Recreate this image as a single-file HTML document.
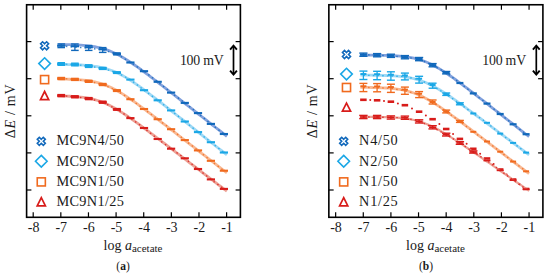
<!DOCTYPE html>
<html><head><meta charset="utf-8"><style>
html,body{margin:0;padding:0;background:#fff;width:550px;height:277px;overflow:hidden;}
svg{display:block;font-family:"Liberation Serif", serif;}
</style></head><body>
<svg width="550" height="277" viewBox="0 0 550 277" font-family='"Liberation Serif", serif' fill="#1a1a1a">
<rect width="550" height="277" fill="#fff"/>
<rect x="26.60" y="4.75" width="213.80" height="212.55" fill="none" stroke="#000" stroke-width="1.60"/>
<line x1="33.20" y1="217.30" x2="33.20" y2="212.30" stroke="#000" stroke-width="1.2"/>
<line x1="33.20" y1="4.75" x2="33.20" y2="9.75" stroke="#000" stroke-width="1.2"/>
<text x="33.60" y="231.7" font-size="14" text-anchor="middle">-8</text>
<line x1="60.83" y1="217.30" x2="60.83" y2="212.30" stroke="#000" stroke-width="1.2"/>
<line x1="60.83" y1="4.75" x2="60.83" y2="9.75" stroke="#000" stroke-width="1.2"/>
<text x="61.23" y="231.7" font-size="14" text-anchor="middle">-7</text>
<line x1="88.46" y1="217.30" x2="88.46" y2="212.30" stroke="#000" stroke-width="1.2"/>
<line x1="88.46" y1="4.75" x2="88.46" y2="9.75" stroke="#000" stroke-width="1.2"/>
<text x="88.86" y="231.7" font-size="14" text-anchor="middle">-6</text>
<line x1="116.09" y1="217.30" x2="116.09" y2="212.30" stroke="#000" stroke-width="1.2"/>
<line x1="116.09" y1="4.75" x2="116.09" y2="9.75" stroke="#000" stroke-width="1.2"/>
<text x="116.49" y="231.7" font-size="14" text-anchor="middle">-5</text>
<line x1="143.72" y1="217.30" x2="143.72" y2="212.30" stroke="#000" stroke-width="1.2"/>
<line x1="143.72" y1="4.75" x2="143.72" y2="9.75" stroke="#000" stroke-width="1.2"/>
<text x="144.12" y="231.7" font-size="14" text-anchor="middle">-4</text>
<line x1="171.35" y1="217.30" x2="171.35" y2="212.30" stroke="#000" stroke-width="1.2"/>
<line x1="171.35" y1="4.75" x2="171.35" y2="9.75" stroke="#000" stroke-width="1.2"/>
<text x="171.75" y="231.7" font-size="14" text-anchor="middle">-3</text>
<line x1="198.98" y1="217.30" x2="198.98" y2="212.30" stroke="#000" stroke-width="1.2"/>
<line x1="198.98" y1="4.75" x2="198.98" y2="9.75" stroke="#000" stroke-width="1.2"/>
<text x="199.38" y="231.7" font-size="14" text-anchor="middle">-2</text>
<line x1="226.61" y1="217.30" x2="226.61" y2="212.30" stroke="#000" stroke-width="1.2"/>
<line x1="226.61" y1="4.75" x2="226.61" y2="9.75" stroke="#000" stroke-width="1.2"/>
<text x="227.01" y="231.7" font-size="14" text-anchor="middle">-1</text>
<line x1="26.60" y1="41.60" x2="31.40" y2="41.60" stroke="#000" stroke-width="1.2"/>
<line x1="240.40" y1="41.60" x2="235.60" y2="41.60" stroke="#000" stroke-width="1.2"/>
<line x1="26.60" y1="78.70" x2="31.40" y2="78.70" stroke="#000" stroke-width="1.2"/>
<line x1="240.40" y1="78.70" x2="235.60" y2="78.70" stroke="#000" stroke-width="1.2"/>
<line x1="26.60" y1="115.80" x2="31.40" y2="115.80" stroke="#000" stroke-width="1.2"/>
<line x1="240.40" y1="115.80" x2="235.60" y2="115.80" stroke="#000" stroke-width="1.2"/>
<line x1="26.60" y1="152.90" x2="31.40" y2="152.90" stroke="#000" stroke-width="1.2"/>
<line x1="240.40" y1="152.90" x2="235.60" y2="152.90" stroke="#000" stroke-width="1.2"/>
<line x1="26.60" y1="190.00" x2="31.40" y2="190.00" stroke="#000" stroke-width="1.2"/>
<line x1="240.40" y1="190.00" x2="235.60" y2="190.00" stroke="#000" stroke-width="1.2"/>
<text transform="translate(15.30,111.3) rotate(-90)" font-size="14" text-anchor="middle" textLength="53.8" lengthAdjust="spacing">&#916;<tspan font-style="italic">E</tspan> / mV</text>
<text x="133.00" y="249.8" font-size="14" text-anchor="middle">log <tspan font-style="italic">a</tspan><tspan font-size="11" dy="2.2">acetate</tspan></text>
<text x="123.00" y="269.9" font-size="11.5" text-anchor="middle">(<tspan font-weight="bold">a</tspan>)</text>
<text x="179.90" y="64.7" font-size="13.8" textLength="43.8" lengthAdjust="spacing">100 mV</text>
<line x1="233.50" y1="46" x2="233.50" y2="74" stroke="#000" stroke-width="1.7"/>
<polyline points="230.10,49.6 233.50,45.6 236.90,49.6" fill="none" stroke="#000" stroke-width="1.9" stroke-linejoin="miter"/>
<polyline points="230.10,70.6 233.50,74.6 236.90,70.6" fill="none" stroke="#000" stroke-width="1.9" stroke-linejoin="miter"/>
<text x="56.40" y="145.10" font-size="14.3" textLength="67.6" lengthAdjust="spacing">MC9N4/50</text>
<path d="M41.30,139.30 L43.30,137.30 L45.30,139.30 L43.30,141.30 L45.30,143.30 L43.30,145.30 L41.30,143.30 L39.30,145.30 L37.30,143.30 L39.30,141.30 L37.30,139.30 L39.30,137.30 Z" fill="none" stroke="#1068bb" stroke-width="1.6" stroke-linejoin="miter"/>
<text x="56.40" y="165.60" font-size="14.3" textLength="67.6" lengthAdjust="spacing">MC9N2/50</text>
<path d="M41.30,155.40 L47.10,161.20 L41.30,167.00 L35.50,161.20 Z" fill="none" stroke="#1aa7e6" stroke-width="1.6"/>
<text x="56.40" y="185.70" font-size="14.3" textLength="67.6" lengthAdjust="spacing">MC9N1/50</text>
<rect x="37.25" y="177.85" width="8.10" height="8.10" fill="none" stroke="#f06a1e" stroke-width="1.6"/>
<text x="56.40" y="205.90" font-size="14.3" textLength="67.6" lengthAdjust="spacing">MC9N1/25</text>
<path d="M41.30,197.70 L45.40,205.80 L37.20,205.80 Z" fill="none" stroke="#d81c1a" stroke-width="1.7" stroke-linejoin="miter"/>
<path d="M44.60,43.80 L46.60,41.80 L48.60,43.80 L46.60,45.80 L48.60,47.80 L46.60,49.80 L44.60,47.80 L42.60,49.80 L40.60,47.80 L42.60,45.80 L40.60,43.80 L42.60,41.80 Z" fill="none" stroke="#1068bb" stroke-width="1.6" stroke-linejoin="miter"/>
<path d="M44.60,57.80 L50.40,63.60 L44.60,69.40 L38.80,63.60 Z" fill="none" stroke="#1aa7e6" stroke-width="1.6"/>
<rect x="40.55" y="75.55" width="8.10" height="8.10" fill="none" stroke="#f06a1e" stroke-width="1.6"/>
<path d="M44.60,91.50 L48.70,99.60 L40.50,99.60 Z" fill="none" stroke="#d81c1a" stroke-width="1.7" stroke-linejoin="miter"/>
<rect x="328.85" y="4.75" width="214.05" height="212.55" fill="none" stroke="#000" stroke-width="1.60"/>
<line x1="335.65" y1="217.30" x2="335.65" y2="212.30" stroke="#000" stroke-width="1.2"/>
<line x1="335.65" y1="4.75" x2="335.65" y2="9.75" stroke="#000" stroke-width="1.2"/>
<text x="336.05" y="231.7" font-size="14" text-anchor="middle">-8</text>
<line x1="363.28" y1="217.30" x2="363.28" y2="212.30" stroke="#000" stroke-width="1.2"/>
<line x1="363.28" y1="4.75" x2="363.28" y2="9.75" stroke="#000" stroke-width="1.2"/>
<text x="363.68" y="231.7" font-size="14" text-anchor="middle">-7</text>
<line x1="390.91" y1="217.30" x2="390.91" y2="212.30" stroke="#000" stroke-width="1.2"/>
<line x1="390.91" y1="4.75" x2="390.91" y2="9.75" stroke="#000" stroke-width="1.2"/>
<text x="391.31" y="231.7" font-size="14" text-anchor="middle">-6</text>
<line x1="418.54" y1="217.30" x2="418.54" y2="212.30" stroke="#000" stroke-width="1.2"/>
<line x1="418.54" y1="4.75" x2="418.54" y2="9.75" stroke="#000" stroke-width="1.2"/>
<text x="418.94" y="231.7" font-size="14" text-anchor="middle">-5</text>
<line x1="446.17" y1="217.30" x2="446.17" y2="212.30" stroke="#000" stroke-width="1.2"/>
<line x1="446.17" y1="4.75" x2="446.17" y2="9.75" stroke="#000" stroke-width="1.2"/>
<text x="446.57" y="231.7" font-size="14" text-anchor="middle">-4</text>
<line x1="473.80" y1="217.30" x2="473.80" y2="212.30" stroke="#000" stroke-width="1.2"/>
<line x1="473.80" y1="4.75" x2="473.80" y2="9.75" stroke="#000" stroke-width="1.2"/>
<text x="474.20" y="231.7" font-size="14" text-anchor="middle">-3</text>
<line x1="501.43" y1="217.30" x2="501.43" y2="212.30" stroke="#000" stroke-width="1.2"/>
<line x1="501.43" y1="4.75" x2="501.43" y2="9.75" stroke="#000" stroke-width="1.2"/>
<text x="501.83" y="231.7" font-size="14" text-anchor="middle">-2</text>
<line x1="529.06" y1="217.30" x2="529.06" y2="212.30" stroke="#000" stroke-width="1.2"/>
<line x1="529.06" y1="4.75" x2="529.06" y2="9.75" stroke="#000" stroke-width="1.2"/>
<text x="529.46" y="231.7" font-size="14" text-anchor="middle">-1</text>
<line x1="328.85" y1="41.60" x2="333.65" y2="41.60" stroke="#000" stroke-width="1.2"/>
<line x1="542.90" y1="41.60" x2="538.10" y2="41.60" stroke="#000" stroke-width="1.2"/>
<line x1="328.85" y1="78.70" x2="333.65" y2="78.70" stroke="#000" stroke-width="1.2"/>
<line x1="542.90" y1="78.70" x2="538.10" y2="78.70" stroke="#000" stroke-width="1.2"/>
<line x1="328.85" y1="115.80" x2="333.65" y2="115.80" stroke="#000" stroke-width="1.2"/>
<line x1="542.90" y1="115.80" x2="538.10" y2="115.80" stroke="#000" stroke-width="1.2"/>
<line x1="328.85" y1="152.90" x2="333.65" y2="152.90" stroke="#000" stroke-width="1.2"/>
<line x1="542.90" y1="152.90" x2="538.10" y2="152.90" stroke="#000" stroke-width="1.2"/>
<line x1="328.85" y1="190.00" x2="333.65" y2="190.00" stroke="#000" stroke-width="1.2"/>
<line x1="542.90" y1="190.00" x2="538.10" y2="190.00" stroke="#000" stroke-width="1.2"/>
<text transform="translate(316.70,111.3) rotate(-90)" font-size="14" text-anchor="middle" textLength="53.8" lengthAdjust="spacing">&#916;<tspan font-style="italic">E</tspan> / mV</text>
<text x="435.50" y="249.8" font-size="14" text-anchor="middle">log <tspan font-style="italic">a</tspan><tspan font-size="11" dy="2.2">acetate</tspan></text>
<text x="426.00" y="269.9" font-size="11.5" text-anchor="middle">(<tspan font-weight="bold">b</tspan>)</text>
<text x="482.30" y="64.7" font-size="13.8" textLength="43.8" lengthAdjust="spacing">100 mV</text>
<line x1="536.30" y1="46" x2="536.30" y2="74" stroke="#000" stroke-width="1.7"/>
<polyline points="532.90,49.6 536.30,45.6 539.70,49.6" fill="none" stroke="#000" stroke-width="1.9" stroke-linejoin="miter"/>
<polyline points="532.90,70.6 536.30,74.6 539.70,70.6" fill="none" stroke="#000" stroke-width="1.9" stroke-linejoin="miter"/>
<text x="359.10" y="145.10" font-size="14.3" textLength="38.6" lengthAdjust="spacing">N4/50</text>
<path d="M343.70,139.30 L345.70,137.30 L347.70,139.30 L345.70,141.30 L347.70,143.30 L345.70,145.30 L343.70,143.30 L341.70,145.30 L339.70,143.30 L341.70,141.30 L339.70,139.30 L341.70,137.30 Z" fill="none" stroke="#1068bb" stroke-width="1.6" stroke-linejoin="miter"/>
<text x="359.10" y="165.60" font-size="14.3" textLength="38.6" lengthAdjust="spacing">N2/50</text>
<path d="M343.70,155.40 L349.50,161.20 L343.70,167.00 L337.90,161.20 Z" fill="none" stroke="#1aa7e6" stroke-width="1.6"/>
<text x="359.10" y="185.70" font-size="14.3" textLength="38.6" lengthAdjust="spacing">N1/50</text>
<rect x="339.65" y="177.85" width="8.10" height="8.10" fill="none" stroke="#f06a1e" stroke-width="1.6"/>
<text x="359.10" y="205.90" font-size="14.3" textLength="38.6" lengthAdjust="spacing">N1/25</text>
<path d="M343.70,197.70 L347.80,205.80 L339.60,205.80 Z" fill="none" stroke="#d81c1a" stroke-width="1.7" stroke-linejoin="miter"/>
<path d="M346.50,52.50 L348.50,50.50 L350.50,52.50 L348.50,54.50 L350.50,56.50 L348.50,58.50 L346.50,56.50 L344.50,58.50 L342.50,56.50 L344.50,54.50 L342.50,52.50 L344.50,50.50 Z" fill="none" stroke="#1068bb" stroke-width="1.6" stroke-linejoin="miter"/>
<path d="M346.50,68.30 L352.30,74.10 L346.50,79.90 L340.70,74.10 Z" fill="none" stroke="#1aa7e6" stroke-width="1.6"/>
<rect x="342.45" y="83.45" width="8.10" height="8.10" fill="none" stroke="#f06a1e" stroke-width="1.6"/>
<path d="M346.50,103.10 L350.60,111.20 L342.40,111.20 Z" fill="none" stroke="#d81c1a" stroke-width="1.7" stroke-linejoin="miter"/>
<path d="M58.20,44.43 L61.01,44.46 L63.82,44.51 L66.64,44.56 L69.45,44.63 L72.26,44.71 L75.07,44.82 L77.88,44.95 L80.69,45.12 L83.50,45.32 L86.32,45.57 L89.13,45.88 L91.94,46.26 L94.75,46.71 L97.56,47.26 L100.38,47.91 L103.19,48.67 L106.00,49.55 L108.81,50.55 L111.62,51.69 L114.43,52.95 L117.25,54.34 L120.06,55.84 L122.87,57.45 L125.68,59.16 L128.49,60.95 L131.30,62.81 L134.12,64.73 L136.93,66.71 L139.74,68.73 L142.55,70.79 L145.36,72.88 L148.17,74.98 L150.99,77.11 L153.80,79.26 L156.61,81.41 L159.42,83.58 L162.23,85.75 L165.04,87.93 L167.85,90.12 L170.67,92.31 L173.48,94.50 L176.29,96.69 L179.10,98.89 L181.91,101.09 L184.72,103.29 L187.54,105.49 L190.35,107.69 L193.16,109.89 L195.97,112.09 L198.78,114.30 L201.59,116.50 L204.41,118.70 L207.22,120.91 L210.03,123.11 L212.84,125.31 L215.65,127.52 L218.46,129.72 L221.28,131.93 L224.09,134.13 L226.90,136.33" fill="none" stroke="#6389d4" stroke-width="2.80" opacity="0.80" stroke-linejoin="round"/>
<path d="M61.20,45.80 L74.90,47.20 L88.70,48.00 L102.70,50.00 L116.90,53.90 L130.40,62.50 L144.00,71.20 L157.70,81.80 L171.10,92.60 L184.80,102.90 L198.00,113.10 L210.90,123.90 L223.90,134.00" fill="none" stroke="#1068bb" stroke-width="1.4" stroke-dasharray="1.5,3.2" opacity="0.8"/>
<line x1="61.20" y1="44.00" x2="61.20" y2="47.60" stroke="#1068bb" stroke-width="1.3"/>
<line x1="57.40" y1="44.00" x2="65.00" y2="44.00" stroke="#1068bb" stroke-width="1.4"/>
<line x1="57.40" y1="47.60" x2="65.00" y2="47.60" stroke="#1068bb" stroke-width="1.4"/>
<rect x="57.10" y="44.75" width="8.20" height="2.10" fill="#1068bb"/>
<line x1="74.90" y1="44.00" x2="74.90" y2="50.40" stroke="#1068bb" stroke-width="1.3"/>
<line x1="71.10" y1="44.00" x2="78.70" y2="44.00" stroke="#1068bb" stroke-width="1.4"/>
<line x1="71.10" y1="50.40" x2="78.70" y2="50.40" stroke="#1068bb" stroke-width="1.4"/>
<rect x="70.80" y="45.19" width="8.20" height="2.10" fill="#1068bb"/>
<line x1="88.70" y1="45.60" x2="88.70" y2="50.40" stroke="#1068bb" stroke-width="1.3"/>
<line x1="84.90" y1="45.60" x2="92.50" y2="45.60" stroke="#1068bb" stroke-width="1.4"/>
<line x1="84.90" y1="50.40" x2="92.50" y2="50.40" stroke="#1068bb" stroke-width="1.4"/>
<rect x="84.60" y="46.23" width="8.20" height="2.10" fill="#1068bb"/>
<line x1="102.70" y1="47.60" x2="102.70" y2="52.40" stroke="#1068bb" stroke-width="1.3"/>
<line x1="98.90" y1="47.60" x2="106.50" y2="47.60" stroke="#1068bb" stroke-width="1.4"/>
<line x1="98.90" y1="52.40" x2="106.50" y2="52.40" stroke="#1068bb" stroke-width="1.4"/>
<rect x="98.60" y="48.23" width="8.20" height="2.10" fill="#1068bb"/>
<line x1="116.90" y1="52.90" x2="116.90" y2="54.90" stroke="#1068bb" stroke-width="1.3"/>
<line x1="113.10" y1="52.90" x2="120.70" y2="52.90" stroke="#1068bb" stroke-width="1.4"/>
<line x1="113.10" y1="54.90" x2="120.70" y2="54.90" stroke="#1068bb" stroke-width="1.4"/>
<rect x="112.80" y="52.85" width="8.20" height="2.10" fill="#1068bb"/>
<rect x="126.30" y="61.45" width="8.20" height="2.10" fill="#1068bb"/>
<rect x="139.90" y="70.15" width="8.20" height="2.10" fill="#1068bb"/>
<rect x="153.60" y="80.75" width="8.20" height="2.10" fill="#1068bb"/>
<rect x="167.00" y="91.55" width="8.20" height="2.10" fill="#1068bb"/>
<rect x="180.70" y="101.85" width="8.20" height="2.10" fill="#1068bb"/>
<rect x="193.90" y="112.05" width="8.20" height="2.10" fill="#1068bb"/>
<rect x="206.80" y="122.85" width="8.20" height="2.10" fill="#1068bb"/>
<rect x="219.80" y="132.95" width="8.20" height="2.10" fill="#1068bb"/>
<path d="M58.20,64.49 L61.01,64.52 L63.82,64.55 L66.64,64.59 L69.45,64.64 L72.26,64.71 L75.07,64.79 L77.88,64.89 L80.69,65.02 L83.50,65.18 L86.32,65.37 L89.13,65.62 L91.94,65.92 L94.75,66.28 L97.56,66.73 L100.38,67.26 L103.19,67.89 L106.00,68.64 L108.81,69.50 L111.62,70.49 L114.43,71.61 L117.25,72.86 L120.06,74.24 L122.87,75.74 L125.68,77.35 L128.49,79.06 L131.30,80.85 L134.12,82.73 L136.93,84.66 L139.74,86.66 L142.55,88.70 L145.36,90.77 L148.17,92.88 L150.99,95.01 L153.80,97.17 L156.61,99.34 L159.42,101.52 L162.23,103.71 L165.04,105.91 L167.85,108.12 L170.67,110.33 L173.48,112.55 L176.29,114.77 L179.10,117.00 L181.91,119.22 L184.72,121.45 L187.54,123.68 L190.35,125.91 L193.16,128.14 L195.97,130.37 L198.78,132.60 L201.59,134.83 L204.41,137.07 L207.22,139.30 L210.03,141.53 L212.84,143.76 L215.65,146.00 L218.46,148.23 L221.28,150.46 L224.09,152.70 L226.90,154.93" fill="none" stroke="#88d0f3" stroke-width="2.80" opacity="0.80" stroke-linejoin="round"/>
<path d="M61.20,64.00 L74.90,64.50 L88.70,66.10 L102.70,68.40 L116.90,72.60 L130.40,79.60 L144.00,90.20 L157.70,100.30 L171.10,110.40 L184.80,121.50 L198.00,132.10 L210.90,142.20 L223.90,152.50" fill="none" stroke="#1aa7e6" stroke-width="1.4" stroke-dasharray="1.5,3.2" opacity="0.8"/>
<line x1="61.20" y1="62.70" x2="61.20" y2="65.30" stroke="#1aa7e6" stroke-width="1.3"/>
<line x1="57.40" y1="62.70" x2="65.00" y2="62.70" stroke="#1aa7e6" stroke-width="1.4"/>
<line x1="57.40" y1="65.30" x2="65.00" y2="65.30" stroke="#1aa7e6" stroke-width="1.4"/>
<rect x="57.10" y="62.95" width="8.20" height="2.10" fill="#1aa7e6"/>
<line x1="74.90" y1="63.20" x2="74.90" y2="65.80" stroke="#1aa7e6" stroke-width="1.3"/>
<line x1="71.10" y1="63.20" x2="78.70" y2="63.20" stroke="#1aa7e6" stroke-width="1.4"/>
<line x1="71.10" y1="65.80" x2="78.70" y2="65.80" stroke="#1aa7e6" stroke-width="1.4"/>
<rect x="70.80" y="63.45" width="8.20" height="2.10" fill="#1aa7e6"/>
<line x1="88.70" y1="64.80" x2="88.70" y2="67.40" stroke="#1aa7e6" stroke-width="1.3"/>
<line x1="84.90" y1="64.80" x2="92.50" y2="64.80" stroke="#1aa7e6" stroke-width="1.4"/>
<line x1="84.90" y1="67.40" x2="92.50" y2="67.40" stroke="#1aa7e6" stroke-width="1.4"/>
<rect x="84.60" y="65.05" width="8.20" height="2.10" fill="#1aa7e6"/>
<line x1="102.70" y1="67.40" x2="102.70" y2="69.40" stroke="#1aa7e6" stroke-width="1.3"/>
<line x1="98.90" y1="67.40" x2="106.50" y2="67.40" stroke="#1aa7e6" stroke-width="1.4"/>
<line x1="98.90" y1="69.40" x2="106.50" y2="69.40" stroke="#1aa7e6" stroke-width="1.4"/>
<rect x="98.60" y="67.35" width="8.20" height="2.10" fill="#1aa7e6"/>
<line x1="116.90" y1="71.80" x2="116.90" y2="73.40" stroke="#1aa7e6" stroke-width="1.3"/>
<line x1="113.10" y1="71.80" x2="120.70" y2="71.80" stroke="#1aa7e6" stroke-width="1.4"/>
<line x1="113.10" y1="73.40" x2="120.70" y2="73.40" stroke="#1aa7e6" stroke-width="1.4"/>
<rect x="112.80" y="71.55" width="8.20" height="2.10" fill="#1aa7e6"/>
<rect x="126.30" y="78.55" width="8.20" height="2.10" fill="#1aa7e6"/>
<rect x="139.90" y="89.15" width="8.20" height="2.10" fill="#1aa7e6"/>
<rect x="153.60" y="99.25" width="8.20" height="2.10" fill="#1aa7e6"/>
<rect x="167.00" y="109.35" width="8.20" height="2.10" fill="#1aa7e6"/>
<rect x="180.70" y="120.45" width="8.20" height="2.10" fill="#1aa7e6"/>
<rect x="193.90" y="131.05" width="8.20" height="2.10" fill="#1aa7e6"/>
<rect x="206.80" y="141.15" width="8.20" height="2.10" fill="#1aa7e6"/>
<rect x="219.80" y="151.45" width="8.20" height="2.10" fill="#1aa7e6"/>
<path d="M58.20,78.97 L61.01,79.01 L63.82,79.07 L66.64,79.14 L69.45,79.24 L72.26,79.35 L75.07,79.49 L77.88,79.67 L80.69,79.89 L83.50,80.16 L86.32,80.49 L89.13,80.89 L91.94,81.37 L94.75,81.95 L97.56,82.63 L100.38,83.42 L103.19,84.34 L106.00,85.38 L108.81,86.55 L111.62,87.85 L114.43,89.27 L117.25,90.80 L120.06,92.43 L122.87,94.15 L125.68,95.95 L128.49,97.82 L131.30,99.74 L134.12,101.72 L136.93,103.73 L139.74,105.78 L142.55,107.86 L145.36,109.95 L148.17,112.07 L150.99,114.20 L153.80,116.33 L156.61,118.48 L159.42,120.64 L162.23,122.80 L165.04,124.96 L167.85,127.13 L170.67,129.31 L173.48,131.48 L176.29,133.66 L179.10,135.83 L181.91,138.01 L184.72,140.19 L187.54,142.37 L190.35,144.55 L193.16,146.73 L195.97,148.91 L198.78,151.10 L201.59,153.28 L204.41,155.46 L207.22,157.64 L210.03,159.82 L212.84,162.01 L215.65,164.19 L218.46,166.37 L221.28,168.56 L224.09,170.74 L226.90,172.92" fill="none" stroke="#f7a878" stroke-width="2.80" opacity="0.80" stroke-linejoin="round"/>
<path d="M61.20,78.50 L74.90,79.40 L88.70,81.30 L102.70,84.50 L116.90,90.60 L130.40,99.20 L144.00,109.00 L157.70,119.20 L171.10,129.20 L184.80,140.10 L198.00,150.40 L210.90,160.80 L223.90,170.70" fill="none" stroke="#f06a1e" stroke-width="1.4" stroke-dasharray="1.5,3.2" opacity="0.8"/>
<line x1="61.20" y1="77.50" x2="61.20" y2="79.50" stroke="#f06a1e" stroke-width="1.3"/>
<line x1="57.40" y1="77.50" x2="65.00" y2="77.50" stroke="#f06a1e" stroke-width="1.4"/>
<line x1="57.40" y1="79.50" x2="65.00" y2="79.50" stroke="#f06a1e" stroke-width="1.4"/>
<rect x="57.10" y="77.45" width="8.20" height="2.10" fill="#f06a1e"/>
<line x1="74.90" y1="78.40" x2="74.90" y2="80.40" stroke="#f06a1e" stroke-width="1.3"/>
<line x1="71.10" y1="78.40" x2="78.70" y2="78.40" stroke="#f06a1e" stroke-width="1.4"/>
<line x1="71.10" y1="80.40" x2="78.70" y2="80.40" stroke="#f06a1e" stroke-width="1.4"/>
<rect x="70.80" y="78.35" width="8.20" height="2.10" fill="#f06a1e"/>
<line x1="88.70" y1="80.30" x2="88.70" y2="82.30" stroke="#f06a1e" stroke-width="1.3"/>
<line x1="84.90" y1="80.30" x2="92.50" y2="80.30" stroke="#f06a1e" stroke-width="1.4"/>
<line x1="84.90" y1="82.30" x2="92.50" y2="82.30" stroke="#f06a1e" stroke-width="1.4"/>
<rect x="84.60" y="80.25" width="8.20" height="2.10" fill="#f06a1e"/>
<line x1="102.70" y1="83.50" x2="102.70" y2="85.50" stroke="#f06a1e" stroke-width="1.3"/>
<line x1="98.90" y1="83.50" x2="106.50" y2="83.50" stroke="#f06a1e" stroke-width="1.4"/>
<line x1="98.90" y1="85.50" x2="106.50" y2="85.50" stroke="#f06a1e" stroke-width="1.4"/>
<rect x="98.60" y="83.45" width="8.20" height="2.10" fill="#f06a1e"/>
<line x1="116.90" y1="89.80" x2="116.90" y2="91.40" stroke="#f06a1e" stroke-width="1.3"/>
<line x1="113.10" y1="89.80" x2="120.70" y2="89.80" stroke="#f06a1e" stroke-width="1.4"/>
<line x1="113.10" y1="91.40" x2="120.70" y2="91.40" stroke="#f06a1e" stroke-width="1.4"/>
<rect x="112.80" y="89.55" width="8.20" height="2.10" fill="#f06a1e"/>
<rect x="126.30" y="98.15" width="8.20" height="2.10" fill="#f06a1e"/>
<rect x="139.90" y="107.95" width="8.20" height="2.10" fill="#f06a1e"/>
<rect x="153.60" y="118.15" width="8.20" height="2.10" fill="#f06a1e"/>
<rect x="167.00" y="128.15" width="8.20" height="2.10" fill="#f06a1e"/>
<rect x="180.70" y="139.05" width="8.20" height="2.10" fill="#f06a1e"/>
<rect x="193.90" y="149.35" width="8.20" height="2.10" fill="#f06a1e"/>
<rect x="206.80" y="159.75" width="8.20" height="2.10" fill="#f06a1e"/>
<rect x="219.80" y="169.65" width="8.20" height="2.10" fill="#f06a1e"/>
<path d="M58.20,95.90 L61.01,95.96 L63.82,96.04 L66.64,96.13 L69.45,96.25 L72.26,96.40 L75.07,96.59 L77.88,96.82 L80.69,97.10 L83.50,97.45 L86.32,97.87 L89.13,98.37 L91.94,98.97 L94.75,99.68 L97.56,100.50 L100.38,101.44 L103.19,102.51 L106.00,103.70 L108.81,105.02 L111.62,106.45 L114.43,107.99 L117.25,109.62 L120.06,111.35 L122.87,113.14 L125.68,115.00 L128.49,116.92 L131.30,118.88 L134.12,120.87 L136.93,122.90 L139.74,124.95 L142.55,127.02 L145.36,129.11 L148.17,131.21 L150.99,133.32 L153.80,135.44 L156.61,137.56 L159.42,139.69 L162.23,141.83 L165.04,143.97 L167.85,146.11 L170.67,148.25 L173.48,150.39 L176.29,152.54 L179.10,154.68 L181.91,156.83 L184.72,158.98 L187.54,161.13 L190.35,163.28 L193.16,165.42 L195.97,167.57 L198.78,169.72 L201.59,171.87 L204.41,174.02 L207.22,176.17 L210.03,178.32 L212.84,180.47 L215.65,182.62 L218.46,184.77 L221.28,186.92 L224.09,189.07 L226.90,191.22" fill="none" stroke="#e88a7a" stroke-width="2.80" opacity="0.80" stroke-linejoin="round"/>
<path d="M61.20,95.60 L74.90,96.80 L88.70,98.60 L102.70,102.20 L116.90,109.40 L130.40,118.10 L144.00,128.00 L157.70,139.00 L171.10,148.70 L184.80,158.30 L198.00,169.00 L210.90,179.40 L223.90,188.90" fill="none" stroke="#d81c1a" stroke-width="1.4" stroke-dasharray="1.5,3.2" opacity="0.8"/>
<line x1="61.20" y1="94.60" x2="61.20" y2="96.60" stroke="#d81c1a" stroke-width="1.3"/>
<line x1="57.40" y1="94.60" x2="65.00" y2="94.60" stroke="#d81c1a" stroke-width="1.4"/>
<line x1="57.40" y1="96.60" x2="65.00" y2="96.60" stroke="#d81c1a" stroke-width="1.4"/>
<rect x="57.10" y="94.55" width="8.20" height="2.10" fill="#d81c1a"/>
<line x1="74.90" y1="95.80" x2="74.90" y2="97.80" stroke="#d81c1a" stroke-width="1.3"/>
<line x1="71.10" y1="95.80" x2="78.70" y2="95.80" stroke="#d81c1a" stroke-width="1.4"/>
<line x1="71.10" y1="97.80" x2="78.70" y2="97.80" stroke="#d81c1a" stroke-width="1.4"/>
<rect x="70.80" y="95.75" width="8.20" height="2.10" fill="#d81c1a"/>
<line x1="88.70" y1="97.60" x2="88.70" y2="99.60" stroke="#d81c1a" stroke-width="1.3"/>
<line x1="84.90" y1="97.60" x2="92.50" y2="97.60" stroke="#d81c1a" stroke-width="1.4"/>
<line x1="84.90" y1="99.60" x2="92.50" y2="99.60" stroke="#d81c1a" stroke-width="1.4"/>
<rect x="84.60" y="97.55" width="8.20" height="2.10" fill="#d81c1a"/>
<line x1="102.70" y1="101.20" x2="102.70" y2="103.20" stroke="#d81c1a" stroke-width="1.3"/>
<line x1="98.90" y1="101.20" x2="106.50" y2="101.20" stroke="#d81c1a" stroke-width="1.4"/>
<line x1="98.90" y1="103.20" x2="106.50" y2="103.20" stroke="#d81c1a" stroke-width="1.4"/>
<rect x="98.60" y="101.15" width="8.20" height="2.10" fill="#d81c1a"/>
<line x1="116.90" y1="108.60" x2="116.90" y2="110.20" stroke="#d81c1a" stroke-width="1.3"/>
<line x1="113.10" y1="108.60" x2="120.70" y2="108.60" stroke="#d81c1a" stroke-width="1.4"/>
<line x1="113.10" y1="110.20" x2="120.70" y2="110.20" stroke="#d81c1a" stroke-width="1.4"/>
<rect x="112.80" y="108.35" width="8.20" height="2.10" fill="#d81c1a"/>
<rect x="126.30" y="117.05" width="8.20" height="2.10" fill="#d81c1a"/>
<rect x="139.90" y="126.95" width="8.20" height="2.10" fill="#d81c1a"/>
<rect x="153.60" y="137.95" width="8.20" height="2.10" fill="#d81c1a"/>
<rect x="167.00" y="147.65" width="8.20" height="2.10" fill="#d81c1a"/>
<rect x="180.70" y="157.25" width="8.20" height="2.10" fill="#d81c1a"/>
<rect x="193.90" y="167.95" width="8.20" height="2.10" fill="#d81c1a"/>
<rect x="206.80" y="178.35" width="8.20" height="2.10" fill="#d81c1a"/>
<rect x="219.80" y="187.85" width="8.20" height="2.10" fill="#d81c1a"/>
<path d="M360.40,55.09 L363.21,55.10 L366.02,55.12 L368.83,55.14 L371.65,55.16 L374.46,55.19 L377.27,55.22 L380.08,55.27 L382.89,55.33 L385.70,55.40 L388.52,55.49 L391.33,55.60 L394.14,55.74 L396.95,55.91 L399.76,56.13 L402.57,56.39 L405.39,56.72 L408.20,57.11 L411.01,57.59 L413.82,58.16 L416.63,58.83 L419.44,59.62 L422.26,60.53 L425.07,61.57 L427.88,62.74 L430.69,64.03 L433.50,65.45 L436.31,66.98 L439.13,68.62 L441.94,70.34 L444.75,72.16 L447.56,74.04 L450.37,75.98 L453.19,77.97 L456.00,80.00 L458.81,82.07 L461.62,84.16 L464.43,86.28 L467.24,88.42 L470.06,90.57 L472.87,92.73 L475.68,94.90 L478.49,97.08 L481.30,99.26 L484.11,101.45 L486.93,103.65 L489.74,105.84 L492.55,108.04 L495.36,110.24 L498.17,112.44 L500.98,114.64 L503.80,116.85 L506.61,119.05 L509.42,121.26 L512.23,123.46 L515.04,125.67 L517.85,127.87 L520.66,130.08 L523.48,132.29 L526.29,134.49 L529.10,136.70" fill="none" stroke="#6389d4" stroke-width="2.80" opacity="0.80" stroke-linejoin="round"/>
<path d="M363.40,54.70 L377.10,55.20 L390.90,55.80 L404.90,57.20 L419.10,59.10 L432.60,65.20 L446.20,72.70 L459.90,83.00 L473.30,93.40 L487.00,103.60 L500.20,114.00 L513.10,124.30 L526.10,134.20" fill="none" stroke="#1068bb" stroke-width="1.4" stroke-dasharray="1.5,3.2" opacity="0.8"/>
<line x1="363.40" y1="53.10" x2="363.40" y2="56.30" stroke="#1068bb" stroke-width="1.3"/>
<line x1="359.30" y1="53.10" x2="367.50" y2="53.10" stroke="#1068bb" stroke-width="1.4"/>
<line x1="359.30" y1="56.30" x2="367.50" y2="56.30" stroke="#1068bb" stroke-width="1.4"/>
<rect x="359.90" y="53.60" width="7.00" height="2.20" fill="#1068bb"/>
<line x1="377.10" y1="53.60" x2="377.10" y2="56.80" stroke="#1068bb" stroke-width="1.3"/>
<line x1="373.00" y1="53.60" x2="381.20" y2="53.60" stroke="#1068bb" stroke-width="1.4"/>
<line x1="373.00" y1="56.80" x2="381.20" y2="56.80" stroke="#1068bb" stroke-width="1.4"/>
<rect x="373.60" y="54.10" width="7.00" height="2.20" fill="#1068bb"/>
<line x1="390.90" y1="54.20" x2="390.90" y2="57.40" stroke="#1068bb" stroke-width="1.3"/>
<line x1="386.80" y1="54.20" x2="395.00" y2="54.20" stroke="#1068bb" stroke-width="1.4"/>
<line x1="386.80" y1="57.40" x2="395.00" y2="57.40" stroke="#1068bb" stroke-width="1.4"/>
<rect x="387.40" y="54.70" width="7.00" height="2.20" fill="#1068bb"/>
<line x1="404.90" y1="55.60" x2="404.90" y2="58.80" stroke="#1068bb" stroke-width="1.3"/>
<line x1="400.80" y1="55.60" x2="409.00" y2="55.60" stroke="#1068bb" stroke-width="1.4"/>
<line x1="400.80" y1="58.80" x2="409.00" y2="58.80" stroke="#1068bb" stroke-width="1.4"/>
<rect x="401.40" y="56.10" width="7.00" height="2.20" fill="#1068bb"/>
<line x1="419.10" y1="57.50" x2="419.10" y2="60.70" stroke="#1068bb" stroke-width="1.3"/>
<line x1="415.00" y1="57.50" x2="423.20" y2="57.50" stroke="#1068bb" stroke-width="1.4"/>
<line x1="415.00" y1="60.70" x2="423.20" y2="60.70" stroke="#1068bb" stroke-width="1.4"/>
<rect x="415.60" y="58.00" width="7.00" height="2.20" fill="#1068bb"/>
<line x1="432.60" y1="63.60" x2="432.60" y2="66.80" stroke="#1068bb" stroke-width="1.3"/>
<line x1="428.50" y1="63.60" x2="436.70" y2="63.60" stroke="#1068bb" stroke-width="1.4"/>
<line x1="428.50" y1="66.80" x2="436.70" y2="66.80" stroke="#1068bb" stroke-width="1.4"/>
<rect x="429.10" y="64.10" width="7.00" height="2.20" fill="#1068bb"/>
<line x1="446.20" y1="71.50" x2="446.20" y2="73.90" stroke="#1068bb" stroke-width="1.3"/>
<line x1="442.10" y1="71.50" x2="450.30" y2="71.50" stroke="#1068bb" stroke-width="1.4"/>
<line x1="442.10" y1="73.90" x2="450.30" y2="73.90" stroke="#1068bb" stroke-width="1.4"/>
<rect x="442.70" y="71.60" width="7.00" height="2.20" fill="#1068bb"/>
<rect x="456.40" y="81.90" width="7.00" height="2.20" fill="#1068bb"/>
<rect x="469.80" y="92.30" width="7.00" height="2.20" fill="#1068bb"/>
<rect x="483.50" y="102.50" width="7.00" height="2.20" fill="#1068bb"/>
<rect x="496.70" y="112.90" width="7.00" height="2.20" fill="#1068bb"/>
<rect x="509.60" y="123.20" width="7.00" height="2.20" fill="#1068bb"/>
<rect x="522.60" y="133.10" width="7.00" height="2.20" fill="#1068bb"/>
<path d="M360.40,75.14 L363.21,75.15 L366.02,75.17 L368.83,75.19 L371.65,75.22 L374.46,75.25 L377.27,75.29 L380.08,75.35 L382.89,75.41 L385.70,75.50 L388.52,75.60 L391.33,75.73 L394.14,75.90 L396.95,76.10 L399.76,76.35 L402.57,76.65 L405.39,77.02 L408.20,77.47 L411.01,78.00 L413.82,78.64 L416.63,79.38 L419.44,80.24 L422.26,81.22 L425.07,82.32 L427.88,83.54 L430.69,84.88 L433.50,86.34 L436.31,87.89 L439.13,89.53 L441.94,91.25 L444.75,93.04 L447.56,94.89 L450.37,96.78 L453.19,98.72 L456.00,100.69 L458.81,102.68 L461.62,104.70 L464.43,106.74 L467.24,108.79 L470.06,110.85 L472.87,112.92 L475.68,115.00 L478.49,117.08 L481.30,119.17 L484.11,121.26 L486.93,123.35 L489.74,125.45 L492.55,127.55 L495.36,129.65 L498.17,131.75 L500.98,133.85 L503.80,135.95 L506.61,138.06 L509.42,140.16 L512.23,142.26 L515.04,144.37 L517.85,146.47 L520.66,148.58 L523.48,150.68 L526.29,152.79 L529.10,154.89" fill="none" stroke="#88d0f3" stroke-width="2.80" opacity="0.80" stroke-linejoin="round"/>
<path d="M363.40,75.30 L377.10,75.50 L390.90,76.00 L404.90,76.50 L419.10,79.70 L432.60,85.70 L446.20,94.20 L459.90,103.80 L473.30,113.50 L487.00,122.80 L500.20,133.60 L513.10,142.90 L526.10,152.60" fill="none" stroke="#1aa7e6" stroke-width="1.4" stroke-dasharray="1.5,3.2" opacity="0.8"/>
<line x1="363.40" y1="71.10" x2="363.40" y2="79.50" stroke="#1aa7e6" stroke-width="1.3"/>
<line x1="359.40" y1="71.10" x2="367.40" y2="71.10" stroke="#1aa7e6" stroke-width="1.4"/>
<line x1="359.40" y1="79.50" x2="367.40" y2="79.50" stroke="#1aa7e6" stroke-width="1.4"/>
<rect x="360.40" y="73.04" width="6.00" height="2.00" fill="#1aa7e6"/>
<line x1="377.10" y1="71.30" x2="377.10" y2="79.70" stroke="#1aa7e6" stroke-width="1.3"/>
<line x1="373.10" y1="71.30" x2="381.10" y2="71.30" stroke="#1aa7e6" stroke-width="1.4"/>
<line x1="373.10" y1="79.70" x2="381.10" y2="79.70" stroke="#1aa7e6" stroke-width="1.4"/>
<rect x="374.10" y="73.24" width="6.00" height="2.00" fill="#1aa7e6"/>
<line x1="390.90" y1="71.80" x2="390.90" y2="80.20" stroke="#1aa7e6" stroke-width="1.3"/>
<line x1="386.90" y1="71.80" x2="394.90" y2="71.80" stroke="#1aa7e6" stroke-width="1.4"/>
<line x1="386.90" y1="80.20" x2="394.90" y2="80.20" stroke="#1aa7e6" stroke-width="1.4"/>
<rect x="387.90" y="73.74" width="6.00" height="2.00" fill="#1aa7e6"/>
<line x1="404.90" y1="73.10" x2="404.90" y2="79.90" stroke="#1aa7e6" stroke-width="1.3"/>
<line x1="400.90" y1="73.10" x2="408.90" y2="73.10" stroke="#1aa7e6" stroke-width="1.4"/>
<line x1="400.90" y1="79.90" x2="408.90" y2="79.90" stroke="#1aa7e6" stroke-width="1.4"/>
<rect x="401.90" y="74.48" width="6.00" height="2.00" fill="#1aa7e6"/>
<line x1="419.10" y1="76.30" x2="419.10" y2="83.10" stroke="#1aa7e6" stroke-width="1.3"/>
<line x1="415.10" y1="76.30" x2="423.10" y2="76.30" stroke="#1aa7e6" stroke-width="1.4"/>
<line x1="415.10" y1="83.10" x2="423.10" y2="83.10" stroke="#1aa7e6" stroke-width="1.4"/>
<rect x="416.10" y="77.68" width="6.00" height="2.00" fill="#1aa7e6"/>
<line x1="432.60" y1="83.20" x2="432.60" y2="88.20" stroke="#1aa7e6" stroke-width="1.3"/>
<line x1="428.60" y1="83.20" x2="436.60" y2="83.20" stroke="#1aa7e6" stroke-width="1.4"/>
<line x1="428.60" y1="88.20" x2="436.60" y2="88.20" stroke="#1aa7e6" stroke-width="1.4"/>
<rect x="429.60" y="83.95" width="6.00" height="2.00" fill="#1aa7e6"/>
<line x1="446.20" y1="93.00" x2="446.20" y2="95.40" stroke="#1aa7e6" stroke-width="1.3"/>
<line x1="442.20" y1="93.00" x2="450.20" y2="93.00" stroke="#1aa7e6" stroke-width="1.4"/>
<line x1="442.20" y1="95.40" x2="450.20" y2="95.40" stroke="#1aa7e6" stroke-width="1.4"/>
<rect x="443.20" y="93.20" width="6.00" height="2.00" fill="#1aa7e6"/>
<line x1="459.90" y1="102.80" x2="459.90" y2="104.80" stroke="#1aa7e6" stroke-width="1.3"/>
<line x1="455.90" y1="102.80" x2="463.90" y2="102.80" stroke="#1aa7e6" stroke-width="1.4"/>
<line x1="455.90" y1="104.80" x2="463.90" y2="104.80" stroke="#1aa7e6" stroke-width="1.4"/>
<rect x="456.90" y="102.80" width="6.00" height="2.00" fill="#1aa7e6"/>
<rect x="470.30" y="112.50" width="6.00" height="2.00" fill="#1aa7e6"/>
<rect x="484.00" y="121.80" width="6.00" height="2.00" fill="#1aa7e6"/>
<rect x="497.20" y="132.60" width="6.00" height="2.00" fill="#1aa7e6"/>
<rect x="510.10" y="141.90" width="6.00" height="2.00" fill="#1aa7e6"/>
<rect x="523.10" y="151.60" width="6.00" height="2.00" fill="#1aa7e6"/>
<path d="M360.40,87.38 L363.21,87.41 L366.02,87.44 L368.83,87.47 L371.65,87.52 L374.46,87.58 L377.27,87.66 L380.08,87.75 L382.89,87.87 L385.70,88.02 L388.52,88.20 L391.33,88.43 L394.14,88.71 L396.95,89.05 L399.76,89.46 L402.57,89.96 L405.39,90.55 L408.20,91.25 L411.01,92.06 L413.82,92.99 L416.63,94.05 L419.44,95.23 L422.26,96.53 L425.07,97.95 L427.88,99.48 L430.69,101.10 L433.50,102.81 L436.31,104.60 L439.13,106.45 L441.94,108.35 L444.75,110.30 L447.56,112.28 L450.37,114.30 L453.19,116.34 L456.00,118.40 L458.81,120.47 L461.62,122.56 L464.43,124.66 L467.24,126.77 L470.06,128.89 L472.87,131.01 L475.68,133.13 L478.49,135.26 L481.30,137.39 L484.11,139.52 L486.93,141.65 L489.74,143.79 L492.55,145.93 L495.36,148.06 L498.17,150.20 L500.98,152.34 L503.80,154.48 L506.61,156.62 L509.42,158.75 L512.23,160.89 L515.04,163.03 L517.85,165.17 L520.66,167.31 L523.48,169.45 L526.29,171.59 L529.10,173.73" fill="none" stroke="#f7a878" stroke-width="2.80" opacity="0.80" stroke-linejoin="round"/>
<path d="M363.40,87.50 L377.10,87.70 L390.90,88.30 L404.90,90.70 L419.10,94.60 L432.60,102.00 L446.20,111.50 L459.90,121.40 L473.30,131.80 L487.00,141.50 L500.20,151.70 L513.10,161.60 L526.10,171.30" fill="none" stroke="#f06a1e" stroke-width="1.4" stroke-dasharray="1.5,3.2" opacity="0.8"/>
<line x1="363.40" y1="83.40" x2="363.40" y2="91.60" stroke="#f06a1e" stroke-width="1.3"/>
<line x1="359.40" y1="83.40" x2="367.40" y2="83.40" stroke="#f06a1e" stroke-width="1.4"/>
<line x1="359.40" y1="91.60" x2="367.40" y2="91.60" stroke="#f06a1e" stroke-width="1.4"/>
<rect x="360.40" y="85.27" width="6.00" height="2.00" fill="#f06a1e"/>
<line x1="377.10" y1="83.60" x2="377.10" y2="91.80" stroke="#f06a1e" stroke-width="1.3"/>
<line x1="373.10" y1="83.60" x2="381.10" y2="83.60" stroke="#f06a1e" stroke-width="1.4"/>
<line x1="373.10" y1="91.80" x2="381.10" y2="91.80" stroke="#f06a1e" stroke-width="1.4"/>
<rect x="374.10" y="85.47" width="6.00" height="2.00" fill="#f06a1e"/>
<line x1="390.90" y1="84.20" x2="390.90" y2="92.40" stroke="#f06a1e" stroke-width="1.3"/>
<line x1="386.90" y1="84.20" x2="394.90" y2="84.20" stroke="#f06a1e" stroke-width="1.4"/>
<line x1="386.90" y1="92.40" x2="394.90" y2="92.40" stroke="#f06a1e" stroke-width="1.4"/>
<rect x="387.90" y="86.07" width="6.00" height="2.00" fill="#f06a1e"/>
<line x1="404.90" y1="87.10" x2="404.90" y2="94.30" stroke="#f06a1e" stroke-width="1.3"/>
<line x1="400.90" y1="87.10" x2="408.90" y2="87.10" stroke="#f06a1e" stroke-width="1.4"/>
<line x1="400.90" y1="94.30" x2="408.90" y2="94.30" stroke="#f06a1e" stroke-width="1.4"/>
<rect x="401.90" y="88.62" width="6.00" height="2.00" fill="#f06a1e"/>
<line x1="419.10" y1="91.60" x2="419.10" y2="97.60" stroke="#f06a1e" stroke-width="1.3"/>
<line x1="415.10" y1="91.60" x2="423.10" y2="91.60" stroke="#f06a1e" stroke-width="1.4"/>
<line x1="415.10" y1="97.60" x2="423.10" y2="97.60" stroke="#f06a1e" stroke-width="1.4"/>
<rect x="416.10" y="92.70" width="6.00" height="2.00" fill="#f06a1e"/>
<line x1="432.60" y1="100.00" x2="432.60" y2="104.00" stroke="#f06a1e" stroke-width="1.3"/>
<line x1="428.60" y1="100.00" x2="436.60" y2="100.00" stroke="#f06a1e" stroke-width="1.4"/>
<line x1="428.60" y1="104.00" x2="436.60" y2="104.00" stroke="#f06a1e" stroke-width="1.4"/>
<rect x="429.60" y="101.00" width="6.00" height="2.00" fill="#f06a1e"/>
<line x1="446.20" y1="110.10" x2="446.20" y2="112.90" stroke="#f06a1e" stroke-width="1.3"/>
<line x1="442.20" y1="110.10" x2="450.20" y2="110.10" stroke="#f06a1e" stroke-width="1.4"/>
<line x1="442.20" y1="112.90" x2="450.20" y2="112.90" stroke="#f06a1e" stroke-width="1.4"/>
<rect x="443.20" y="110.50" width="6.00" height="2.00" fill="#f06a1e"/>
<line x1="459.90" y1="120.40" x2="459.90" y2="122.40" stroke="#f06a1e" stroke-width="1.3"/>
<line x1="455.90" y1="120.40" x2="463.90" y2="120.40" stroke="#f06a1e" stroke-width="1.4"/>
<line x1="455.90" y1="122.40" x2="463.90" y2="122.40" stroke="#f06a1e" stroke-width="1.4"/>
<rect x="456.90" y="120.40" width="6.00" height="2.00" fill="#f06a1e"/>
<rect x="470.30" y="130.80" width="6.00" height="2.00" fill="#f06a1e"/>
<rect x="484.00" y="140.50" width="6.00" height="2.00" fill="#f06a1e"/>
<rect x="497.20" y="150.70" width="6.00" height="2.00" fill="#f06a1e"/>
<rect x="510.10" y="160.60" width="6.00" height="2.00" fill="#f06a1e"/>
<rect x="523.10" y="170.30" width="6.00" height="2.00" fill="#f06a1e"/>
<circle cx="370.25" cy="100.05" r="1.0" fill="#d81c1a"/>
<circle cx="384.00" cy="101.00" r="1.0" fill="#d81c1a"/>
<circle cx="397.90" cy="103.45" r="1.0" fill="#d81c1a"/>
<circle cx="412.00" cy="108.45" r="1.0" fill="#d81c1a"/>
<circle cx="425.85" cy="115.45" r="1.0" fill="#d81c1a"/>
<circle cx="439.40" cy="124.10" r="1.0" fill="#d81c1a"/>
<circle cx="453.05" cy="133.95" r="1.0" fill="#d81c1a"/>
<circle cx="466.60" cy="143.85" r="1.0" fill="#d81c1a"/>
<circle cx="480.15" cy="153.65" r="1.0" fill="#d81c1a"/>
<circle cx="493.60" cy="164.00" r="1.0" fill="#d81c1a"/>
<circle cx="506.65" cy="174.50" r="1.0" fill="#d81c1a"/>
<circle cx="519.60" cy="184.25" r="1.0" fill="#d81c1a"/>
<rect x="360.15" y="98.50" width="6.50" height="2.60" fill="#d81c1a"/>
<rect x="373.85" y="99.00" width="6.50" height="2.60" fill="#d81c1a"/>
<rect x="387.65" y="100.40" width="6.50" height="2.60" fill="#d81c1a"/>
<rect x="401.65" y="103.90" width="6.50" height="2.60" fill="#d81c1a"/>
<rect x="415.85" y="110.40" width="6.50" height="2.60" fill="#d81c1a"/>
<rect x="429.35" y="117.90" width="6.50" height="2.60" fill="#d81c1a"/>
<rect x="442.95" y="127.70" width="6.50" height="2.60" fill="#d81c1a"/>
<rect x="456.65" y="137.60" width="6.50" height="2.60" fill="#d81c1a"/>
<rect x="470.05" y="147.50" width="6.50" height="2.60" fill="#d81c1a"/>
<rect x="483.75" y="157.20" width="6.50" height="2.60" fill="#d81c1a"/>
<rect x="496.95" y="168.20" width="6.50" height="2.60" fill="#d81c1a"/>
<rect x="509.85" y="178.20" width="6.50" height="2.60" fill="#d81c1a"/>
<rect x="522.85" y="187.70" width="6.50" height="2.60" fill="#d81c1a"/>
<path d="M360.40,116.81 L363.21,116.82 L366.02,116.83 L368.83,116.85 L371.65,116.88 L374.46,116.91 L377.27,116.95 L380.08,117.00 L382.89,117.06 L385.70,117.13 L388.52,117.23 L391.33,117.35 L394.14,117.50 L396.95,117.68 L399.76,117.91 L402.57,118.19 L405.39,118.53 L408.20,118.94 L411.01,119.43 L413.82,120.02 L416.63,120.70 L419.44,121.49 L422.26,122.40 L425.07,123.41 L427.88,124.54 L430.69,125.78 L433.50,127.13 L436.31,128.57 L439.13,130.09 L441.94,131.68 L444.75,133.34 L447.56,135.06 L450.37,136.82 L453.19,138.62 L456.00,140.44 L458.81,142.30 L461.62,144.17 L464.43,146.07 L467.24,147.97 L470.06,149.89 L472.87,151.81 L475.68,153.74 L478.49,155.68 L481.30,157.62 L484.11,159.57 L486.93,161.52 L489.74,163.46 L492.55,165.42 L495.36,167.37 L498.17,169.32 L500.98,171.28 L503.80,173.23 L506.61,175.19 L509.42,177.14 L512.23,179.10 L515.04,181.06 L517.85,183.02 L520.66,184.97 L523.48,186.93 L526.29,188.89 L529.10,190.85" fill="none" stroke="#e88a7a" stroke-width="2.20" opacity="0.80" stroke-linejoin="round"/>
<path d="M363.40,117.00 L377.10,117.00 L390.90,117.50 L404.90,117.70 L419.10,121.40 L432.60,127.30 L446.20,134.60 L459.90,143.00 L473.30,152.00 L487.00,160.60 L500.20,170.40 L513.10,180.10 L526.10,189.20" fill="none" stroke="#d81c1a" stroke-width="1.4" stroke-dasharray="1.5,3.2" opacity="0.8"/>
<line x1="363.40" y1="115.40" x2="363.40" y2="118.60" stroke="#d81c1a" stroke-width="1.3"/>
<line x1="359.20" y1="115.40" x2="367.60" y2="115.40" stroke="#d81c1a" stroke-width="1.4"/>
<line x1="359.20" y1="118.60" x2="367.60" y2="118.60" stroke="#d81c1a" stroke-width="1.4"/>
<rect x="359.90" y="116.20" width="7.00" height="1.60" fill="#d81c1a"/>
<line x1="377.10" y1="115.40" x2="377.10" y2="118.60" stroke="#d81c1a" stroke-width="1.3"/>
<line x1="372.90" y1="115.40" x2="381.30" y2="115.40" stroke="#d81c1a" stroke-width="1.4"/>
<line x1="372.90" y1="118.60" x2="381.30" y2="118.60" stroke="#d81c1a" stroke-width="1.4"/>
<rect x="373.60" y="116.20" width="7.00" height="1.60" fill="#d81c1a"/>
<line x1="390.90" y1="115.90" x2="390.90" y2="119.10" stroke="#d81c1a" stroke-width="1.3"/>
<line x1="386.70" y1="115.90" x2="395.10" y2="115.90" stroke="#d81c1a" stroke-width="1.4"/>
<line x1="386.70" y1="119.10" x2="395.10" y2="119.10" stroke="#d81c1a" stroke-width="1.4"/>
<rect x="387.40" y="116.70" width="7.00" height="1.60" fill="#d81c1a"/>
<line x1="404.90" y1="116.10" x2="404.90" y2="119.30" stroke="#d81c1a" stroke-width="1.3"/>
<line x1="400.70" y1="116.10" x2="409.10" y2="116.10" stroke="#d81c1a" stroke-width="1.4"/>
<line x1="400.70" y1="119.30" x2="409.10" y2="119.30" stroke="#d81c1a" stroke-width="1.4"/>
<rect x="401.40" y="116.90" width="7.00" height="1.60" fill="#d81c1a"/>
<line x1="419.10" y1="119.80" x2="419.10" y2="123.00" stroke="#d81c1a" stroke-width="1.3"/>
<line x1="414.90" y1="119.80" x2="423.30" y2="119.80" stroke="#d81c1a" stroke-width="1.4"/>
<line x1="414.90" y1="123.00" x2="423.30" y2="123.00" stroke="#d81c1a" stroke-width="1.4"/>
<rect x="415.60" y="120.60" width="7.00" height="1.60" fill="#d81c1a"/>
<line x1="432.60" y1="125.70" x2="432.60" y2="128.90" stroke="#d81c1a" stroke-width="1.3"/>
<line x1="428.40" y1="125.70" x2="436.80" y2="125.70" stroke="#d81c1a" stroke-width="1.4"/>
<line x1="428.40" y1="128.90" x2="436.80" y2="128.90" stroke="#d81c1a" stroke-width="1.4"/>
<rect x="429.10" y="126.50" width="7.00" height="1.60" fill="#d81c1a"/>
<line x1="446.20" y1="133.20" x2="446.20" y2="136.00" stroke="#d81c1a" stroke-width="1.3"/>
<line x1="442.00" y1="133.20" x2="450.40" y2="133.20" stroke="#d81c1a" stroke-width="1.4"/>
<line x1="442.00" y1="136.00" x2="450.40" y2="136.00" stroke="#d81c1a" stroke-width="1.4"/>
<rect x="442.70" y="133.80" width="7.00" height="1.60" fill="#d81c1a"/>
<line x1="459.90" y1="141.70" x2="459.90" y2="144.30" stroke="#d81c1a" stroke-width="1.3"/>
<line x1="455.70" y1="141.70" x2="464.10" y2="141.70" stroke="#d81c1a" stroke-width="1.4"/>
<line x1="455.70" y1="144.30" x2="464.10" y2="144.30" stroke="#d81c1a" stroke-width="1.4"/>
<rect x="456.40" y="142.20" width="7.00" height="1.60" fill="#d81c1a"/>
<line x1="473.30" y1="150.90" x2="473.30" y2="153.10" stroke="#d81c1a" stroke-width="1.3"/>
<line x1="469.10" y1="150.90" x2="477.50" y2="150.90" stroke="#d81c1a" stroke-width="1.4"/>
<line x1="469.10" y1="153.10" x2="477.50" y2="153.10" stroke="#d81c1a" stroke-width="1.4"/>
<rect x="469.80" y="151.20" width="7.00" height="1.60" fill="#d81c1a"/>
<rect x="483.50" y="159.80" width="7.00" height="1.60" fill="#d81c1a"/>
<rect x="496.70" y="169.60" width="7.00" height="1.60" fill="#d81c1a"/>
<rect x="509.60" y="179.30" width="7.00" height="1.60" fill="#d81c1a"/>
<rect x="522.60" y="188.40" width="7.00" height="1.60" fill="#d81c1a"/>
</svg>
</body></html>
